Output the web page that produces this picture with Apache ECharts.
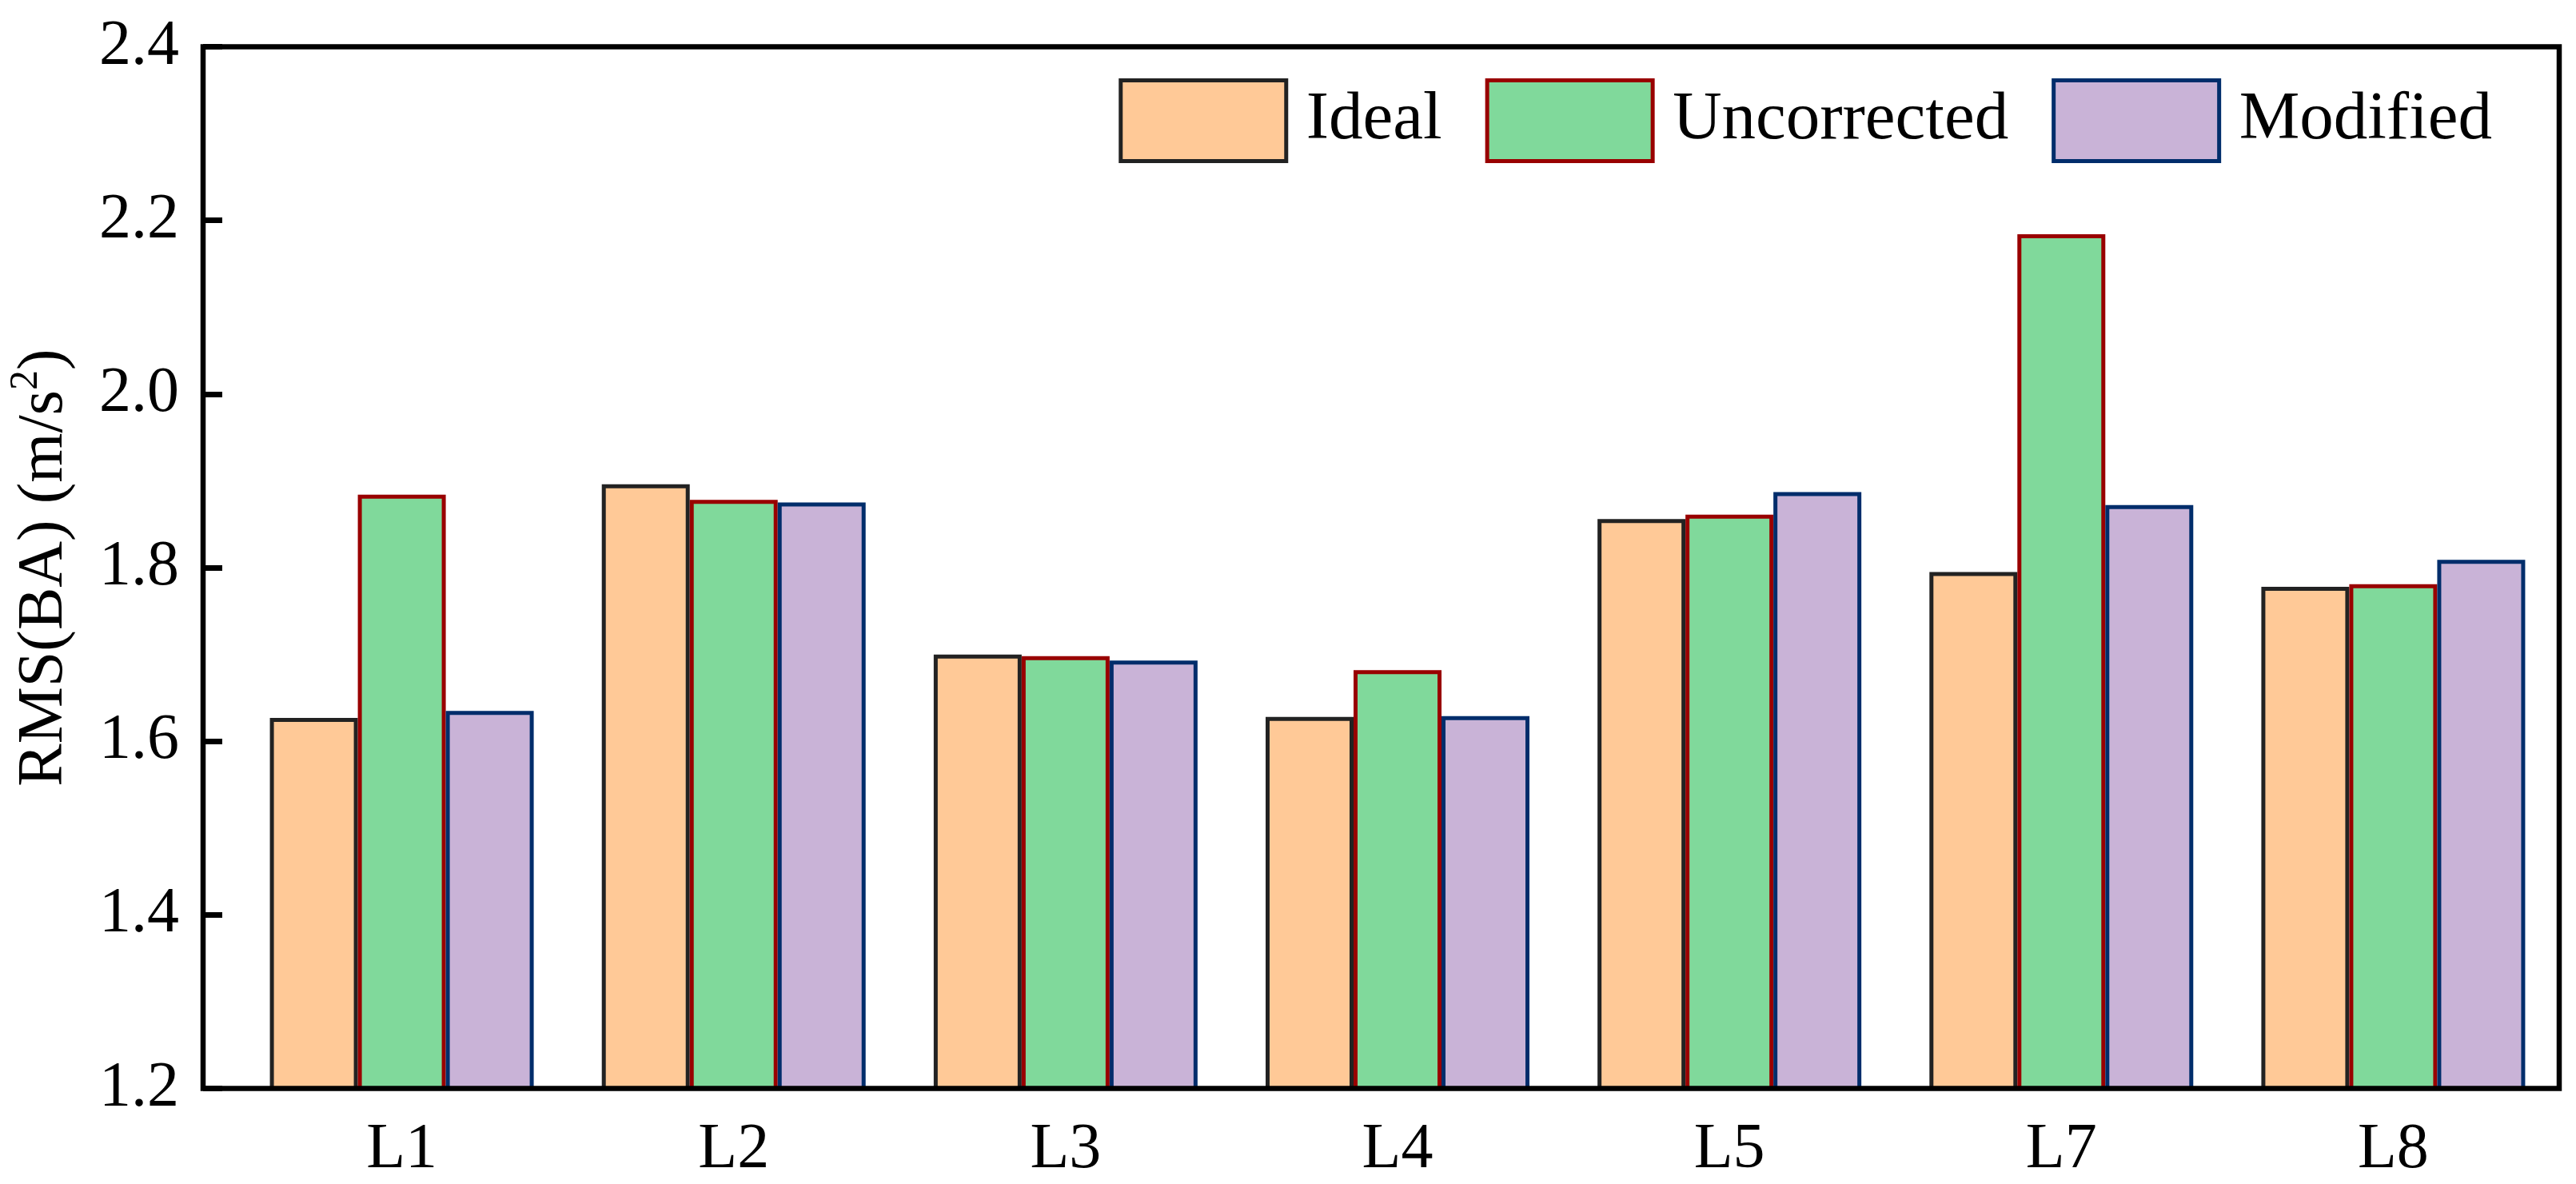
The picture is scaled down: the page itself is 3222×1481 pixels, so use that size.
<!DOCTYPE html>
<html>
<head>
<meta charset="utf-8">
<script src="https://cdn.jsdelivr.net/npm/echarts@6/dist/echarts.min.js"></script>
<style>
html,body{margin:0;padding:0;background:#fff;}
#chart{width:3222px;height:1481px;}
</style>
</head>
<body>
<div id="chart"></div>
<script>
const categories = ['L1', 'L2', 'L3', 'L4', 'L5', 'L7', 'L8'];
const seriesNames = ['Ideal', 'Uncorrected', 'Modified'];
const idealValues = [1.627, 1.896, 1.700, 1.628, 1.856, 1.795, 1.778];
const uncorrectedValues = [1.884, 1.878, 1.698, 1.682, 1.861, 2.184, 1.781];
const modifiedValues = [1.635, 1.875, 1.693, 1.629, 1.887, 1.872, 1.809];
const yTicks = [1.2, 1.4, 1.6, 1.8, 2.0, 2.2, 2.4];

const FONT = '"Liberation Serif", "Times New Roman", serif';
const fills = ['#FFC997', '#80D99B', '#C9B3D7'];
const borders = ['#222222', '#990000', '#002D6B'];
const valueSets = [idealValues, uncorrectedValues, modifiedValues];

const chart = echarts.init(document.getElementById('chart'), null, {renderer: 'canvas'});

const option = {
  backgroundColor: '#ffffff',
  animation: false,
  legend: {
    data: seriesNames,
    right: 100,
    top: 93,
    orient: 'horizontal',
    icon: 'rect',
    itemWidth: 207,
    itemHeight: 101,
    itemGap: 54,
    itemStyle: {borderWidth: 5},
    textStyle: {fontFamily: FONT, fontSize: 85, color: '#000', padding: [0, 0, 0, 20]}
  },
  grid: [
    {left: 295, right: 21, top: 58.5, bottom: 119.4, show: false},
    {left: 253, right: 21, top: 58.5, bottom: 119.4, show: true, borderColor: '#000', borderWidth: 6.5, backgroundColor: 'transparent', z: 10}
  ],
  xAxis: [
    {
      type: 'category', gridIndex: 0, data: categories,
      axisLine: {show: false}, axisTick: {show: false},
      axisLabel: {fontFamily: FONT, fontSize: 80, color: '#000', margin: 37}
    },
    {type: 'value', gridIndex: 1, min: 0, max: 1, show: false}
  ],
  yAxis: [
    {type: 'value', gridIndex: 0, min: 1.2, max: 2.4, show: false},
    {
      type: 'value', gridIndex: 1, min: 1.2, max: 2.4, interval: 0.2, z: 10,
      name: '{a|RMS(BA) (m/s}{sup|2}{a|)}',
      nameLocation: 'middle', nameGap: 150, nameRotate: 90,
      nameTextStyle: {
        fontFamily: FONT, fontSize: 80, color: '#000',
        rich: {
          a: {fontFamily: FONT, fontSize: 80, color: '#000', lineHeight: 96},
          sup: {fontFamily: FONT, fontSize: 50, color: '#000', verticalAlign: 'top', lineHeight: 96}
        }
      },
      axisLine: {show: false},
      axisTick: {show: true, inside: true, length: 24, lineStyle: {color: '#000', width: 7}},
      splitLine: {show: false},
      axisLabel: {
        fontFamily: FONT, fontSize: 80, color: '#000', margin: 30,
        formatter: function (v) {
          const t = yTicks.find(x => Math.abs(x - v) < 1e-6);
          return (t !== undefined ? t : v).toFixed(1);
        }
      }
    }
  ],
  series: seriesNames.map((name, i) => ({
    name: name,
    type: 'bar',
    xAxisIndex: 0,
    yAxisIndex: 0,
    data: valueSets[i],
    barWidth: 110,
    barGap: '0%',
    itemStyle: {color: fills[i], borderColor: borders[i], borderWidth: 5}
  }))
};
chart.setOption(option);
</script>
</body>
</html>
